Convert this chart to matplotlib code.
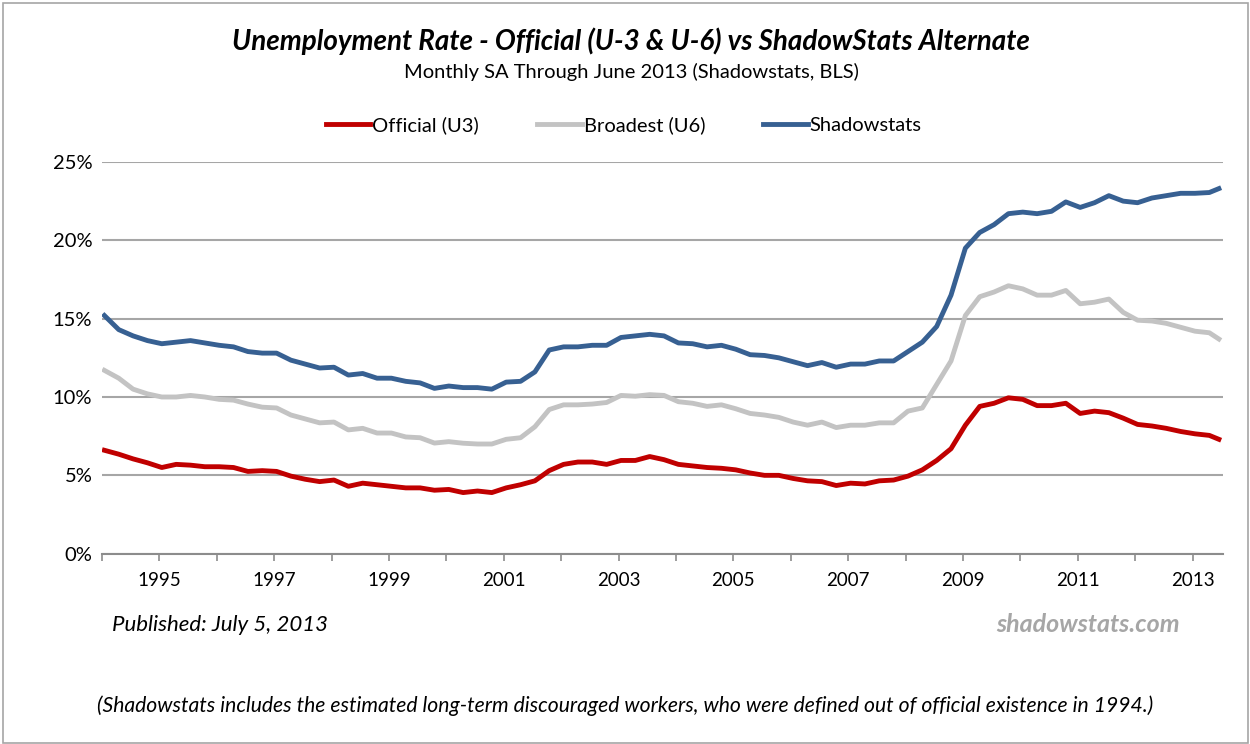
import numpy as np
import matplotlib
matplotlib.use("Agg")
import matplotlib.pyplot as plt
from matplotlib.patches import Rectangle

# 월 인덱스 (1994년 1월 = 0), 분기 간격으로 그림에서 읽은 값
month_idx = list(range(0, 232, 3)) + [233]

u3 = [6.6, 6.35, 6.05, 5.8, 5.5, 5.7, 5.65, 5.55, 5.55, 5.5, 5.25, 5.3,
      5.25, 4.95, 4.75, 4.6, 4.7, 4.3, 4.5, 4.4, 4.3, 4.2, 4.2, 4.05,
      4.1, 3.9, 4.0, 3.9, 4.2, 4.4, 4.65, 5.3, 5.7, 5.85, 5.85, 5.7,
      5.95, 5.95, 6.2, 6.0, 5.7, 5.6, 5.5, 5.45, 5.35, 5.15, 5.0, 5.0,
      4.8, 4.65, 4.6, 4.35, 4.5, 4.45, 4.65, 4.7, 4.95, 5.35, 5.95, 6.7,
      8.2, 9.4, 9.6, 9.95, 9.85, 9.45, 9.45, 9.6, 8.95, 9.1, 9.0, 8.65,
      8.25, 8.15, 8.0, 7.8, 7.65, 7.55, 7.3]

u6 = [11.7, 11.2, 10.5, 10.2, 10.0, 10.0, 10.1, 10.0, 9.85, 9.8, 9.55, 9.35,
      9.3, 8.85, 8.6, 8.35, 8.4, 7.9, 8.0, 7.7, 7.7, 7.45, 7.4, 7.06,
      7.15, 7.05, 7.0, 7.0, 7.3, 7.4, 8.1, 9.2, 9.5, 9.5, 9.55, 9.65,
      10.1, 10.05, 10.15, 10.1, 9.7, 9.6, 9.4, 9.5, 9.25, 8.95, 8.85, 8.7,
      8.4, 8.2, 8.4, 8.05, 8.2, 8.2, 8.35, 8.35, 9.1, 9.3, 10.8, 12.3,
      15.2, 16.4, 16.7, 17.1, 16.9, 16.5, 16.5, 16.8, 15.95, 16.05, 16.25, 15.4,
      14.9, 14.85, 14.7, 14.45, 14.2, 14.1, 13.7]

shadow = [15.2, 14.3, 13.9, 13.6, 13.4, 13.5, 13.6, 13.45, 13.3, 13.2, 12.9, 12.8,
          12.8, 12.35, 12.1, 11.85, 11.9, 11.4, 11.5, 11.2, 11.2, 11.0, 10.9, 10.55,
          10.7, 10.6, 10.6, 10.5, 10.95, 11.0, 11.6, 13.0, 13.2, 13.2, 13.3, 13.3,
          13.8, 13.9, 14.0, 13.9, 13.45, 13.4, 13.2, 13.3, 13.05, 12.7, 12.65, 12.5,
          12.25, 12.0, 12.2, 11.9, 12.1, 12.1, 12.3, 12.3, 12.9, 13.5, 14.5, 16.5,
          19.5, 20.5, 21.0, 21.7, 21.8, 21.7, 21.85, 22.45, 22.1, 22.4, 22.85, 22.5,
          22.4, 22.7, 22.85, 23.0, 23.0, 23.05, 23.3]

year_ticks = list(range(1994, 2014))
y_ticks = [0, 5, 10, 15, 20, 25]

plt.rcParams['font.family'] = ['Lato', 'DejaVu Sans']

x = 1994 + (np.array(month_idx) + 0.5) / 12.0

fig = plt.figure(figsize=(12.5, 7.44), dpi=100)
ax = fig.add_axes([0.0816, 0.2558, 0.9784 - 0.0816, 0.7823 - 0.2558])

ax.plot(x, u3, color='#C00000', lw=3.5, label='Official (U3)', zorder=3)
ax.plot(x, u6, color='#C3C3C3', lw=3.5, label='Broadest (U6)', zorder=3)
ax.plot(x, shadow, color='#376092', lw=3.5, label='Shadowstats', zorder=3)

ax.set_xlim(1994, 2013.53)
ax.set_ylim(0, 25)
ax.set_yticks(y_ticks)
ax.set_yticklabels([f"{v}%" for v in y_ticks], fontsize=14.5)
ax.set_xticks(year_ticks)
ax.set_xticklabels([str(y) if y % 2 == 1 else '' for y in year_ticks], fontsize=13.5)
ax.tick_params(axis='y', length=0, pad=7)
ax.tick_params(axis='x', length=5, color='#8C8C8C', pad=8, width=1.2)
ax.yaxis.grid(True, color='#A6A6A6', lw=1.5)
ax.set_axisbelow(True)
for s in ['top', 'right', 'left']:
    ax.spines[s].set_visible(False)
ax.spines['bottom'].set_color('#8C8C8C')
ax.spines['bottom'].set_linewidth(1.5)

fig.legend(loc='center', bbox_to_anchor=(0.499, 0.832), ncol=3, frameon=False,
           fontsize=14.5, handlelength=2.2, handletextpad=0.1, columnspacing=2.9)

fig.text(0.505, 0.944, 'Unemployment Rate - Official (U-3 & U-6) vs ShadowStats Alternate',
         ha='center', va='center', fontsize=20, fontweight='bold', fontstyle='italic')
fig.text(0.505, 0.903, 'Monthly SA Through June 2013 (Shadowstats, BLS)',
         ha='center', va='center', fontsize=14.5)
fig.text(0.0896, 0.16, 'Published: July 5, 2013', ha='left', va='center',
         fontsize=16, fontstyle='italic')
fig.text(0.944, 0.16, 'shadowstats.com', ha='right', va='center', fontsize=18,
         fontweight='bold', fontstyle='italic', color='#A6A6A6')
fig.text(0.5, 0.052, '(Shadowstats includes the estimated long-term discouraged workers, '
         'who were defined out of official existence in 1994.)',
         ha='center', va='center', fontsize=15.2, fontstyle='italic')

fig.patches.append(Rectangle((0.002, 0.002), 0.996, 0.994, transform=fig.transFigure,
                             fill=False, edgecolor='#A6A6A6', lw=1.2))

fig.savefig('out.png', dpi=100)
